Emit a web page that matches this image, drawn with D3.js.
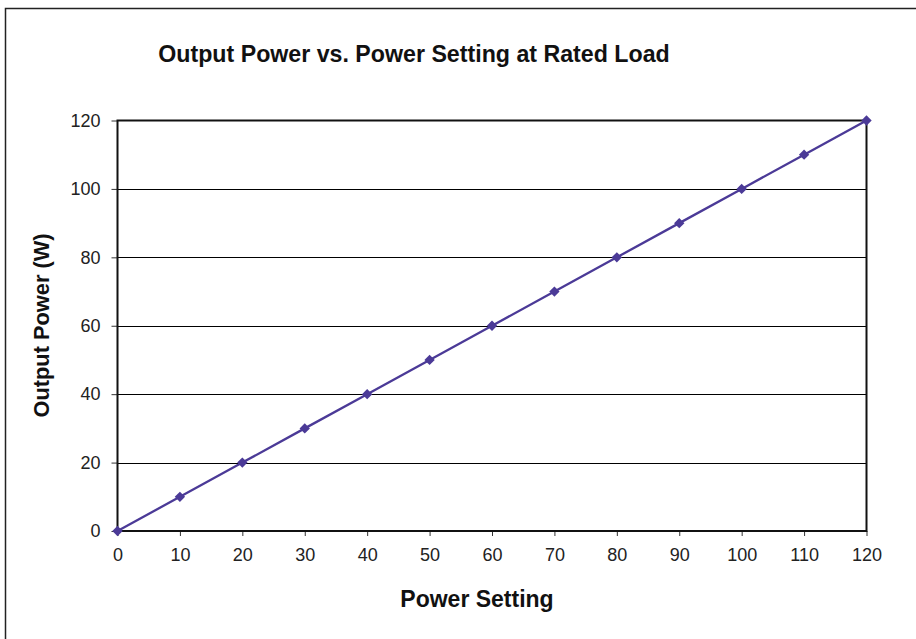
<!DOCTYPE html>
<html><head><meta charset="utf-8">
<script src="https://cdn.jsdelivr.net/npm/d3@7"></script>
<style>body{margin:0;background:#fff;} text{font-family:"Liberation Sans",Arial,sans-serif;}</style>
</head><body>
<svg id="c" width="916" height="639"></svg>
<script>
const powerSetting = [0,10,20,30,40,50,60,70,80,90,100,110,120];
const outputPower = [0,10,20,30,40,50,60,70,80,90,100,110,120];
const xTicks = [0,10,20,30,40,50,60,70,80,90,100,110,120];
const yTicks = [0,20,40,60,80,100,120];
const titleText = "Output Power vs. Power Setting at Rated Load";
const xLabel = "Power Setting";
const yLabel = "Output Power (W)";

const svg = d3.select("#c");
const L=117.5, R=866.5, T=120.5, B=531;
const x = d3.scaleLinear().domain([0,120]).range([L,R]);
const y = d3.scaleLinear().domain([0,120]).range([B,T]);
const col = "#4B3A97";

svg.append("rect").attr("x",5.5).attr("y",8.5).attr("width",920).attr("height",640)
  .attr("fill","none").attr("stroke","#222").attr("stroke-width",1.5);

// gridlines
svg.append("g").selectAll("line").data(yTicks.filter(d=>d>0&&d<120)).join("line")
  .attr("x1",L).attr("x2",R).attr("y1",d=>Math.round(y(d))+0.5).attr("y2",d=>Math.round(y(d))+0.5)
  .attr("stroke","#000").attr("stroke-width",1);

// axes
const yAxis = d3.axisLeft(y).tickValues(yTicks).tickSize(6).tickPadding(11);
const gy = svg.append("g").attr("transform",`translate(${L},0)`).call(yAxis);
gy.select(".domain").remove();
gy.selectAll("line").attr("stroke","#333");
gy.selectAll("text").attr("font-size",18).attr("fill","#222");

const xAxis = d3.axisBottom(x).tickValues(xTicks).tickSize(5).tickPadding(12);
const gx = svg.append("g").attr("transform",`translate(0,${B})`).call(xAxis);
gx.select(".domain").remove();
gx.selectAll("line").attr("stroke","#333");
gx.selectAll("text").attr("font-size",18).attr("fill","#222");

// frame
svg.append("rect").attr("x",L).attr("y",T).attr("width",R-L).attr("height",B-T)
  .attr("fill","none").attr("stroke","#111").attr("stroke-width",2);

// line
const pts = powerSetting.map((v,i)=>[v,outputPower[i]]);
svg.append("path").datum(pts).attr("fill","none").attr("stroke",col).attr("stroke-width",2.3)
  .attr("d",d3.line().x(d=>x(d[0])).y(d=>y(d[1])));
svg.append("g").selectAll("path").data(pts).join("path")
  .attr("d",d3.symbol().type(d3.symbolDiamond2).size(68))
  .attr("transform",d=>`translate(${x(d[0])},${y(d[1])})`).attr("fill",col);

svg.append("text").attr("x",414).attr("y",61.5).attr("text-anchor","middle")
  .attr("font-size",23.2).attr("font-weight","bold").attr("fill","#111").text(titleText);
svg.append("text").attr("x",477).attr("y",607).attr("text-anchor","middle")
  .attr("font-size",23).attr("font-weight","bold").attr("fill","#111").text(xLabel);
svg.append("text").attr("transform","translate(49,325.5) rotate(-90)").attr("text-anchor","middle")
  .attr("font-size",21.8).attr("font-weight","bold").attr("fill","#111").text(yLabel);
</script>
</body></html>
